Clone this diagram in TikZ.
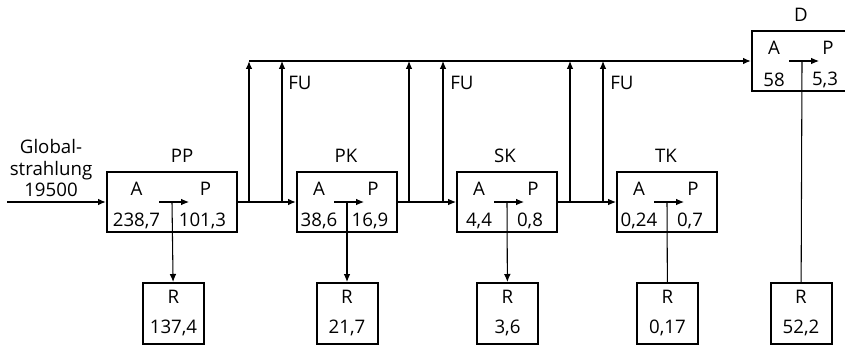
\documentclass[tikz,border=0pt]{standalone}
\usepackage{fontspec}
\setmainfont{Open Sans}
\usetikzlibrary{arrows.meta, calc}

\tikzstyle{pool} = [rectangle, minimum height=45pt, draw=black, line width=1.5pt, inner sep=0pt]
\tikzstyle{resp} = [rectangle, minimum width=45.75pt, minimum height=45.75pt, align=center, draw=black, line width=1.5pt, inner sep=0pt]
\tikzstyle{flow} = [draw=black, line width=0.8pt, -{Latex[length=6pt,width=5pt]}]
\tikzstyle{mainflow} = [flow, line width=1.4pt]
\tikzstyle{plain} = [draw=black, line width=0.8pt]
\tikzstyle{fu} = [anchor=west, inner sep=0pt]

% one trophic box: name, centre x, centre y, width, uptake, production
\newcommand{\compartment}[6]{%
  \node (#1) [pool, minimum width=#4*0.75pt] at (#2,#3) {};
  \node (#1-A) at (#2-#4/4-3,#3-13) {A};
  \node (#1-P) at (#2+#4/4+1,#3-13) {P};
  \node (#1-in) at (#2-#4/4-3,#3+19) {#5};
  \node (#1-out) at (#2+#4/4-2,#3+19) {#6};
  \coordinate (#1-split) at (#2,#3);
  \coordinate (#1-from) at (#2-13,#3);
  \coordinate (#1-to) at (#2+17,#3);
  \draw [flow] (#1-from) -- (#1-to);
}

\begin{document}
\begin{tikzpicture}[x=0.75pt, y=-0.75pt, font=\fontsize{14}{16}\selectfont]
\clip (0,0) rectangle (845,346);

\compartment{pp}{172}{202}{130}{238,7}{101,3}
\compartment{pk}{347}{202}{100}{38,6}{16,9}
\compartment{sk}{507}{202}{100}{4,4}{0,8}
\compartment{tk}{667}{202}{100}{0,24}{0,7}
\compartment{d}{802}{61}{100}{58}{5,3}

\node (pp-title) at (182,156) {PP};
\node (pk-title) at (346,156) {PK};
\node (sk-title) at (505,156) {SK};
\node (tk-title) at (666,156) {TK};
\node (d-title) at (801,15) {D};

% respiration
\node (pp-r) [resp] at (173.5,313.5) {R\\[6.5pt]137,4};
\node (pk-r) [resp] at (347,313.5) {R\\[6.5pt]21,7};
\node (sk-r) [resp] at (507.5,313.5) {R\\[6.5pt]3,6};
\node (tk-r) [resp] at (667.5,313.5) {R\\[6.5pt]0,17};
\node (d-r) [resp] at (801,313.5) {R\\[6.5pt]52,2};

\draw [flow] (pp-split) -- (pp-r);
\draw [flow] (pk-split) -- (pk-r);
\draw [flow] (sk-split) -- (sk-r);
\draw [plain] (tk-split) -- (tk-r);
\draw [plain] (d-split) -- (d-r);

% input
\node (sun) [align=center] at (51,168) {Global-\\strahlung\\19500};
\coordinate (sun-in) at (7,202);
\draw [mainflow] (sun-in) -- (pp);

% food chain
\draw [mainflow] (pp) -- (pk);
\draw [flow] (pk) -- (sk);
\draw [flow] (sk) -- (tk);

% branches up to the detritus line
\coordinate (pp-up1) at (249,202);
\coordinate (pp-up1-top) at (249,61);
\coordinate (pp-up2) at (282,202);
\coordinate (pp-up2-top) at (282,61);
\coordinate (pk-up1) at (409,202);
\coordinate (pk-up1-top) at (409,61);
\coordinate (pk-up2) at (443,202);
\coordinate (pk-up2-top) at (443,61);
\coordinate (sk-up1) at (570,202);
\coordinate (sk-up1-top) at (570,61);
\coordinate (sk-up2) at (603,202);
\coordinate (sk-up2-top) at (603,61);

\draw [mainflow] (pp-up1) -- (pp-up1-top);
\draw [flow] (pp-up2) -- (pp-up2-top);
\draw [flow] (pk-up1) -- (pk-up1-top);
\draw [flow] (pk-up2) -- (pk-up2-top);
\draw [flow] (sk-up1) -- (sk-up1-top);
\draw [flow] (sk-up2) -- (sk-up2-top);

\node (pp-fu) [fu] at (288,83) {FU};
\node (pk-fu) [fu] at (450,83) {FU};
\node (sk-fu) [fu] at (610,83) {FU};

\draw [flow, line width=1.2pt] (pp-up1-top) -- (d);
\end{tikzpicture}
\end{document}
